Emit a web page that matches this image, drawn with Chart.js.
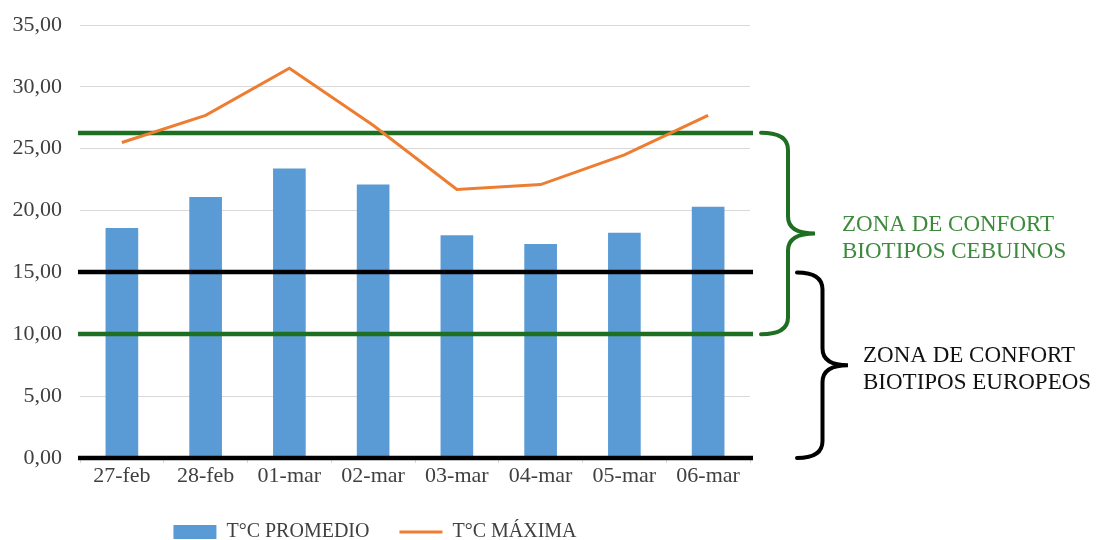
<!DOCTYPE html>
<html>
<head>
<meta charset="utf-8">
<title>Temperaturas</title>
<style>
  html, body { margin: 0; padding: 0; background: #fff; overflow: hidden; }
  #wrap { width: 1107px; height: 540px; }
</style>
</head>
<body>
<div id="wrap"><canvas id="tempCanvas" width="1107" height="540"></canvas></div>
<script src="https://cdn.jsdelivr.net/npm/chart.js@4.4.1/dist/chart.umd.min.js"></script>
<script>
var days = ['27-feb', '28-feb', '01-mar', '02-mar', '03-mar', '04-mar', '05-mar', '06-mar'];
var tempPromedio = [18.6, 21.1, 23.4, 22.1, 18.0, 17.3, 18.2, 20.3];
var tempMaxima = [25.5, 27.7, 31.5, 26.9, 21.7, 22.1, 24.5, 27.7];
var seriesNames = ['T°C PROMEDIO', 'T°C MÁXIMA'];

// comfort zones: [top, bottom] of each band and its two text lines
var zoneTop = [26.3, 15];
var zoneBottom = [10, 0];
var zoneText = [['ZONA DE CONFORT', 'BIOTIPOS CEBUINOS'], ['ZONA DE CONFORT', 'BIOTIPOS EUROPEOS']];

var serif = "'Liberation Serif', 'Times New Roman', serif";
var zoneColors = ['#1f6f22', '#000000'];
var zoneTextColors = ['#3c8a3c', '#111111'];

function drawBrace(ctx, x, y1, y2, w, r) {
    var mid = (y1 + y2) / 2;
    var xm = x + w / 2;
    ctx.beginPath();
    ctx.moveTo(x, y1);
    ctx.quadraticCurveTo(xm, y1, xm, y1 + r);
    ctx.lineTo(xm, mid - r);
    ctx.quadraticCurveTo(xm, mid, x + w, mid);
    ctx.quadraticCurveTo(xm, mid, xm, mid + r);
    ctx.lineTo(xm, y2 - r);
    ctx.quadraticCurveTo(xm, y2, x, y2);
    ctx.stroke();
}

var zonePlugin = {
    id: 'zones',
    afterDatasetDraw: function(chart, args) {
        if (args.meta.type !== 'bar') return;
        var ctx = chart.ctx, y = chart.scales.y, area = chart.chartArea;
        ctx.save();
        ctx.lineWidth = 4.5;
        var vals = [zoneTop[0], zoneBottom[0], zoneTop[1], zoneBottom[1]];
        var cols = [zoneColors[0], zoneColors[0], zoneColors[1], zoneColors[1]];
        for (var i = 0; i < vals.length; i++) {
            var py = Math.round(y.getPixelForValue(vals[i]));
            ctx.strokeStyle = cols[i];
            ctx.beginPath();
            ctx.moveTo(area.left - 2, py);
            ctx.lineTo(area.right + 3, py);
            ctx.stroke();
        }
        ctx.restore();
    },
    afterDraw: function(chart) {
        var ctx = chart.ctx, y = chart.scales.y, area = chart.chartArea;
        var braceX = [area.right + 11, area.right + 47];
        var braceW = [54, 51];
        var textX = [area.right + 92, area.right + 113];
        ctx.save();
        ctx.lineWidth = 4;
        ctx.lineCap = 'round';
        ctx.font = '23px ' + serif;
        ctx.textBaseline = 'middle';
        ctx.textAlign = 'left';
        for (var i = 0; i < zoneTop.length; i++) {
            var t = y.getPixelForValue(zoneTop[i]);
            var b = y.getPixelForValue(zoneBottom[i]);
            ctx.strokeStyle = zoneColors[i];
            drawBrace(ctx, braceX[i], t, b, braceW[i], 17);
            var mid = (t + b) / 2;
            ctx.fillStyle = zoneTextColors[i];
            ctx.fillText(zoneText[i][0], textX[i], mid - 9);
            ctx.fillText(zoneText[i][1], textX[i], mid + 18);
        }
        ctx.restore();
    }
};

var ctx = document.getElementById('tempCanvas').getContext('2d');
new Chart(ctx, {
    type: 'bar',
    data: {
        labels: days,
        datasets: [{
            type: 'bar',
            label: seriesNames[0],
            data: tempPromedio,
            backgroundColor: '#5b9bd5',
            categoryPercentage: 1,
            barPercentage: 0.39,
            pointStyle: 'rect',
            order: 1
        }, {
            type: 'line',
            label: seriesNames[1],
            data: tempMaxima,
            borderColor: '#ed7d31',
            backgroundColor: '#ed7d31',
            borderWidth: 3,
            pointRadius: 0,
            tension: 0,
            pointStyle: 'line',
            order: 0
        }]
    },
    options: {
        responsive: false,
        animation: false,
        layout: { padding: { left: 0, right: 357, top: 25, bottom: -12 } },
        plugins: {
            tooltip: { enabled: false },
            legend: {
                position: 'bottom',
                labels: {
                    usePointStyle: true,
                    pointStyleWidth: 43,
                    boxHeight: 14,
                    padding: 30,
                    color: '#404040',
                    font: { family: serif, size: 20 },
                    sort: function(a, b) { return a.datasetIndex - b.datasetIndex; }
                }
            }
        },
        scales: {
            x: {
                afterFit: function(scale) { scale.height = 34; },
                grid: { display: true, drawOnChartArea: false, tickLength: 5, color: '#d9d9d9' },
                border: { display: false },
                ticks: { color: '#404040', padding: 0, font: { family: serif, size: 22 } }
            },
            y: {
                min: 0,
                max: 35,
                afterFit: function(scale) {
                    scale.width = 80;
                    scale.paddingTop = 0;
                    scale.paddingBottom = 0;
                },
                grid: { color: '#d9d9d9', drawTicks: false },
                border: { display: false },
                ticks: {
                    stepSize: 5,
                    padding: 18,
                    color: '#404040',
                    font: { family: serif, size: 22 },
                    callback: function(v) { return v.toFixed(2).replace('.', ','); }
                }
            }
        }
    },
    plugins: [zonePlugin]
});
</script>
</body>
</html>
